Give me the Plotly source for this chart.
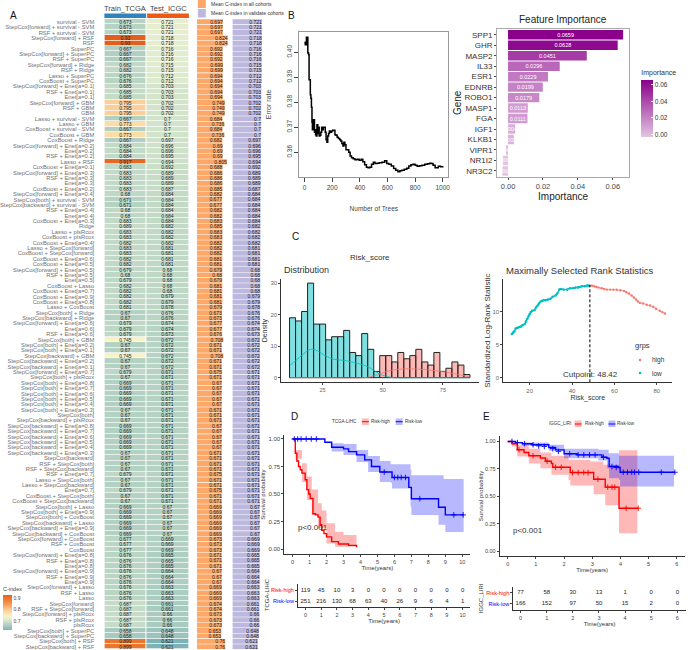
import plotly.graph_objects as go

W, H = 688, 650
FONT = "Liberation Sans"

# Panel A: model names and C-index values
row_names = [
    "survival - SVM", "StepCox[forward] + survival - SVM", "RSF + survival - SVM", "StepCox[forward] + RSF", "RSF",
    "SuperPC", "StepCox[forward] + SuperPC", "RSF + SuperPC", "StepCox[forward] + Ridge", "RSF + Ridge",
    "Lasso + SuperPC", "CoxBoost + SuperPC", "StepCox[forward] + Enet[a=0.1]", "RSF + Enet[a=0.1]", "Enet[a=0.1]",
    "StepCox[forward] + GBM", "RSF + GBM", "GBM", "Lasso + survival - SVM", "Lasso + GBM",
    "CoxBoost + survival - SVM", "CoxBoost + GBM", "CoxBoost + Ridge", "StepCox[forward] + Enet[a=0.2]", "Enet[a=0.2]",
    "RSF + Enet[a=0.2]", "Lasso + RSF", "CoxBoost + Enet[a=0.1]", "StepCox[forward] + Enet[a=0.3]", "RSF + Enet[a=0.3]",
    "Enet[a=0.3]", "CoxBoost + Enet[a=0.2]", "StepCox[forward] + Enet[a=0.4]", "StepCox[both] + survival - SVM", "StepCox[backward] + survival - SVM",
    "RSF + Enet[a=0.4]", "Enet[a=0.4]", "CoxBoost + Enet[a=0.3]", "Ridge", "Lasso + plsRcox",
    "CoxBoost + plsRcox", "CoxBoost + Enet[a=0.4]", "Lasso + StepCox[forward]", "CoxBoost + StepCox[forward]", "CoxBoost + Enet[a=0.6]",
    "CoxBoost + Enet[a=0.5]", "StepCox[forward] + Enet[a=0.5]", "RSF + Enet[a=0.5]", "Enet[a=0.5]", "CoxBoost + Lasso",
    "CoxBoost + Enet[a=0.7]", "CoxBoost + Enet[a=0.9]", "CoxBoost + Enet[a=0.8]", "Lasso + CoxBoost", "StepCox[both] + Ridge",
    "StepCox[backward] + Ridge", "StepCox[forward] + Enet[a=0.6]", "Enet[a=0.6]", "RSF + Enet[a=0.6]", "StepCox[both] + GBM",
    "StepCox[both] + Enet[a=0.2]", "StepCox[both] + Enet[a=0.1]", "StepCox[backward] + GBM", "StepCox[backward] + Enet[a=0.2]", "StepCox[backward] + Enet[a=0.1]",
    "StepCox[forward] + Enet[a=0.7]", "StepCox[both] + plsRcox", "StepCox[both] + Enet[a=0.8]", "StepCox[both] + Enet[a=0.7]", "StepCox[both] + Enet[a=0.6]",
    "StepCox[both] + Enet[a=0.5]", "StepCox[both] + Enet[a=0.4]", "StepCox[both] + Enet[a=0.3]", "StepCox[both]", "StepCox[backward] + plsRcox",
    "StepCox[backward] + Enet[a=0.8]", "StepCox[backward] + Enet[a=0.7]", "StepCox[backward] + Enet[a=0.6]", "StepCox[backward] + Enet[a=0.5]", "StepCox[backward] + Enet[a=0.4]",
    "StepCox[backward] + Enet[a=0.3]", "StepCox[backward]", "RSF + StepCox[both]", "RSF + StepCox[backward]", "RSF + Enet[a=0.7]",
    "Lasso + StepCox[both]", "Lasso + StepCox[backward]", "Enet[a=0.7]", "CoxBoost + StepCox[both]", "CoxBoost + StepCox[backward]",
    "StepCox[both] + Lasso", "StepCox[both] + Enet[a=0.9]", "StepCox[both] + CoxBoost", "StepCox[backward] + Lasso", "StepCox[backward] + Enet[a=0.9]",
    "StepCox[backward] + CoxBoost", "StepCox[forward] + CoxBoost", "RSF + CoxBoost", "CoxBoost", "StepCox[forward] + Enet[a=0.8]",
    "RSF + Enet[a=0.8]", "Enet[a=0.8]", "StepCox[forward] + Enet[a=0.9]", "RSF + Enet[a=0.9]", "Enet[a=0.9]",
    "StepCox[forward] + Lasso", "RSF + Lasso", "Lasso", "StepCox[forward]", "RSF + StepCox[forward]",
    "StepCox[forward] + plsRcox", "RSF + plsRcox", "plsRcox", "StepCox[both] + SuperPC", "StepCox[backward] + SuperPC",
    "StepCox[both] + RSF", "StepCox[backward] + RSF",
]
train_tcga = [
    0.673, 0.673, 0.673, 0.93, 0.93, 0.667, 0.667, 0.667, 0.682, 0.682,
    0.676, 0.676, 0.685, 0.685, 0.685, 0.795, 0.795, 0.795, 0.667, 0.773,
    0.667, 0.773, 0.667, 0.684, 0.684, 0.684, 0.917, 0.683, 0.683, 0.683,
    0.683, 0.683, 0.68, 0.671, 0.671, 0.68, 0.68, 0.683, 0.689, 0.683,
    0.683, 0.682, 0.683, 0.683, 0.682, 0.682, 0.679, 0.68, 0.679, 0.682,
    0.682, 0.682, 0.682, 0.681, 0.67, 0.67, 0.679, 0.679, 0.679, 0.745,
    0.67, 0.67, 0.745, 0.67, 0.67, 0.679, 0.67, 0.669, 0.669, 0.669,
    0.669, 0.669, 0.67, 0.67, 0.67, 0.669, 0.669, 0.669, 0.669, 0.669,
    0.67, 0.67, 0.67, 0.67, 0.679, 0.67, 0.67, 0.679, 0.67, 0.67,
    0.669, 0.669, 0.669, 0.669, 0.669, 0.669, 0.677, 0.677, 0.677, 0.676,
    0.676, 0.676, 0.676, 0.676, 0.676, 0.676, 0.676, 0.676, 0.687, 0.687,
    0.687, 0.687, 0.687, 0.658, 0.658, 0.899, 0.899,
]
test_icgc = [
    0.721, 0.721, 0.721, 0.718, 0.718, 0.716, 0.716, 0.716, 0.715, 0.715,
    0.712, 0.712, 0.703, 0.703, 0.703, 0.702, 0.702, 0.702, 0.7, 0.7,
    0.7, 0.7, 0.697, 0.696, 0.696, 0.695, 0.694, 0.692, 0.689, 0.689,
    0.689, 0.687, 0.684, 0.684, 0.684, 0.684, 0.684, 0.684, 0.682, 0.682,
    0.682, 0.682, 0.681, 0.681, 0.681, 0.681, 0.68, 0.68, 0.68, 0.68,
    0.68, 0.679, 0.679, 0.678, 0.676, 0.676, 0.674, 0.674, 0.673, 0.672,
    0.672, 0.672, 0.672, 0.672, 0.672, 0.671, 0.671, 0.671, 0.671, 0.671,
    0.671, 0.671, 0.671, 0.671, 0.671, 0.671, 0.671, 0.671, 0.671, 0.671,
    0.671, 0.671, 0.671, 0.671, 0.671, 0.671, 0.671, 0.671, 0.671, 0.671,
    0.67, 0.67, 0.67, 0.67, 0.67, 0.67, 0.669, 0.669, 0.669, 0.665,
    0.665, 0.665, 0.664, 0.664, 0.664, 0.663, 0.663, 0.663, 0.661, 0.661,
    0.66, 0.66, 0.66, 0.648, 0.648, 0.621, 0.621,
]
mean_all = [
    0.697, 0.697, 0.697, 0.824, 0.824, 0.692, 0.692, 0.692, 0.699, 0.699,
    0.694, 0.694, 0.694, 0.694, 0.694, 0.749, 0.749, 0.749, 0.684, 0.736,
    0.684, 0.736, 0.682, 0.69, 0.69, 0.69, 0.805, 0.688, 0.686, 0.686,
    0.686, 0.685, 0.682, 0.677, 0.677, 0.682, 0.682, 0.683, 0.685, 0.683,
    0.683, 0.682, 0.682, 0.682, 0.681, 0.681, 0.679, 0.68, 0.679, 0.681,
    0.681, 0.681, 0.681, 0.679, 0.673, 0.673, 0.677, 0.677, 0.676, 0.708,
    0.671, 0.671, 0.708, 0.671, 0.671, 0.675, 0.671, 0.67, 0.67, 0.67,
    0.67, 0.67, 0.671, 0.671, 0.671, 0.67, 0.67, 0.67, 0.67, 0.67,
    0.671, 0.671, 0.671, 0.671, 0.675, 0.671, 0.671, 0.675, 0.671, 0.671,
    0.669, 0.669, 0.669, 0.669, 0.669, 0.669, 0.673, 0.673, 0.673, 0.671,
    0.671, 0.671, 0.67, 0.67, 0.67, 0.669, 0.669, 0.669, 0.674, 0.674,
    0.673, 0.673, 0.673, 0.653, 0.653, 0.76, 0.76,
]
mean_valid = list(test_icgc)
heat_stops = [0.621, 0.66, 0.68, 0.72, 0.745, 0.775, 0.795, 0.85, 0.893, 0.93]
heat_colors = ["#7eb3b5", "#a9cbc0", "#bfd8c6", "#e6eecf", "#f8f2c4", "#fbdca6",
               "#fbcf9a", "#f59a50", "#ec7a32", "#e2601c"]

# Panel B: random forest error curve
n_trees = [
    1, 5, 10, 14, 17, 20, 24, 27, 30, 33, 37, 42, 46, 50, 54, 57, 60, 64, 68, 72,
    76, 80, 85, 90, 96, 101, 106, 112, 118, 124, 130, 136, 143, 150, 156, 162, 168, 174, 180, 188,
    196, 204, 212, 220, 228, 236, 245, 255, 262, 270, 278, 285, 292, 300, 310, 320, 330, 340, 352, 365,
    380, 395, 410, 422, 435, 448, 460, 472, 485, 498, 510, 525, 540, 560, 580, 595, 610, 628, 645, 660,
    676, 690, 705, 722, 740, 755, 770, 785, 800, 815, 832, 850, 870, 890, 905, 918, 930, 945, 955, 968,
    985, 1000,
]
error_rate = [
    0.4030, 0.4040, 0.4030, 0.4060, 0.4030, 0.4060, 0.3998, 0.3996, 0.3990, 0.3890,
    0.3890, 0.3830, 0.3816, 0.3780, 0.3720, 0.3690, 0.3730, 0.3690, 0.3730, 0.3680,
    0.3690, 0.3670, 0.3665, 0.3710, 0.3675, 0.3700, 0.3665, 0.3668, 0.3680, 0.3700,
    0.3690, 0.3700, 0.3700, 0.3680, 0.3650, 0.3640, 0.3665, 0.3675, 0.3685, 0.3680,
    0.3685, 0.3688, 0.3688, 0.3670, 0.3668, 0.3660, 0.3655, 0.3650, 0.3645, 0.3635,
    0.3625, 0.3640, 0.3630, 0.3610, 0.3610, 0.3600, 0.3585, 0.3578, 0.3574, 0.3570,
    0.3572, 0.3568, 0.3572, 0.3562, 0.3550, 0.3540, 0.3538, 0.3540, 0.3552, 0.3560,
    0.3555, 0.3556, 0.3558, 0.3560, 0.3566, 0.3555, 0.3552, 0.3545, 0.3535, 0.3528,
    0.3522, 0.3526, 0.3528, 0.3532, 0.3536, 0.3545, 0.3550, 0.3552, 0.3548, 0.3544,
    0.3546, 0.3548, 0.3552, 0.3554, 0.3556, 0.3555, 0.3548, 0.3538, 0.3538, 0.3544,
    0.3542, 0.3545,
]
genes = ["SPP1", "GHR", "MASP2", "IL33", "ESR1", "EDNRB", "ROBO1", "MASP1", "FGA", "IGF1",
         "KLKB1", "VIPR1", "NR1I2", "NR3C2"]
importance = [0.0659, 0.0628, 0.0451, 0.0296, 0.0229, 0.0199, 0.0179, 0.0113, 0.0111, 0.0041,
              0.0033, -0.0012, -0.0029, -0.0032]

# Panel C: risk score distribution and rank statistics
low_bins = [12.5, 15, 17.5, 20, 22.5, 25, 27.5, 30, 32.5, 35, 37.5, 40, 42.5, 45, 47.5]
low_counts = [19, 18, 21, 30, 17, 17, 12, 13, 13, 15, 8, 7, 14, 9, 2]
high_bins = [50, 52.5, 55, 57.5, 60, 62.5, 65, 67.5, 70, 72.5, 75, 77.5, 80, 82.5, 85]
high_counts = [7, 7, 5, 8, 6, 7, 9, 5, 4, 8, 2, 3, 5, 4, 1]
low_dens_x = [11.5, 14, 17, 20, 23, 26, 30, 34, 38, 42, 45, 48, 51, 55, 65, 75, 86]
low_dens_y = [4, 5.5, 7.5, 9, 8.5, 7, 5.8, 5.5, 4.8, 4, 3, 1.5, 0.5, 0, 0, 0, 0]
high_dens_x = [11.5, 25, 42, 46, 50, 53, 57, 62, 67, 72, 76, 80, 84, 86]
high_dens_y = [0, 0, 0, 0.5, 1.5, 2.3, 2.7, 2.8, 2.6, 2.2, 1.8, 1.2, 0.6, 0.3]
low_score = [11.6, 12.2, 12.8, 13.4, 14.0, 14.8, 15.8, 16.6, 17.7, 18.3, 18.9, 19.5, 20.0, 20.5, 21.2, 22.3,
             23.0, 23.8, 24.4, 25.2, 26.0, 26.7, 27.6, 28.6, 29.8, 30.8, 32.2, 33.0, 34.0, 34.8, 36.0, 37.7,
             39.0, 40.4, 41.6, 42.8, 43.8, 44.7, 46.0, 47.0, 47.8]
low_stat = [6.6, 6.8, 7.0, 7.4, 7.5, 7.6, 7.7, 7.9, 8.1, 8.5, 8.9, 9.3, 9.6, 9.9, 10.1, 10.2,
            10.6, 10.9, 11.2, 11.5, 11.6, 11.7, 11.7, 11.8, 11.9, 12.2, 12.4, 12.7, 13.3, 13.4, 13.3, 13.3,
            13.5, 13.5, 13.6, 13.6, 13.7, 13.8, 13.8, 13.9, 13.9]
high_score = [48.6, 49.5, 50.5, 51.5, 52.5, 54.0, 55.2, 56.4, 58.0, 59.5, 61.1, 62.8, 64.5, 65.6, 66.8, 68.1,
              69.2, 70.2, 71.0, 72.0, 73.5, 75.2, 76.8, 78.3, 79.6, 81.4, 82.6, 83.8]
high_stat = [13.9, 13.9, 13.8, 13.7, 13.6, 13.5, 13.4, 13.3, 13.3, 13.3, 13.3, 13.2, 13.1, 12.9, 12.7, 12.4,
             12.1, 11.8, 11.5, 11.3, 11.2, 11.0, 10.9, 10.7, 10.4, 10.1, 9.9, 9.7]
cutpoint = 48.42

# Panel D: TCGA-LIHC survival
d_high_t = [0, 0.16, 0.25, 0.35, 0.45, 0.55, 0.74, 0.84, 0.95, 1.04, 1.2, 1.35, 1.5, 1.62, 1.72, 1.85, 2, 2.3, 2.7, 3.3, 3.77]
d_high_s = [1, 0.87, 0.8, 0.75, 0.72, 0.69, 0.63, 0.54, 0.5, 0.46, 0.32, 0.31, 0.29, 0.22, 0.17, 0.14, 0.11, 0.067, 0.045, 0.033, 0.015]
d_high_up_t = [0, 0.16, 0.55, 0.84, 1.13, 1.5, 1.72, 2, 2.5, 3, 3.77]
d_high_up_s = [1, 0.9, 0.78, 0.66, 0.54, 0.415, 0.35, 0.233, 0.158, 0.127, 0.106]
d_high_lo_t = [0, 0.16, 0.55, 0.84, 1.13, 1.5, 2, 2.5, 3.77]
d_high_lo_s = [1, 0.82, 0.61, 0.445, 0.31, 0.19, 0.05, 0.02, 0.002]
d_low_t = [0, 1.62, 1.9, 2.3, 3, 3.3, 3.77, 4.25, 4.65, 5.14, 5.78, 5.86, 6.7, 6.85, 7, 8.55, 8.6, 8.9, 9, 10.08]
d_low_s = [1, 1, 0.97, 0.925, 0.91, 0.885, 0.855, 0.81, 0.75, 0.7, 0.7, 0.65, 0.65, 0.56, 0.457, 0.457, 0.38, 0.38, 0.31, 0.31]
d_low_up_t = [0, 1.62, 2.3, 3, 3.77, 4.45, 5.14, 5.78, 6.7, 6.95, 7, 8.55, 8.9, 10.08]
d_low_up_s = [1, 1, 0.96, 0.955, 0.9, 0.845, 0.8, 0.77, 0.77, 0.72, 0.67, 0.67, 0.636, 0.6]
d_low_lo_t = [0, 1.62, 2.3, 3, 3.77, 4.45, 5.14, 5.8, 5.86, 6.7, 6.95, 7, 8.55, 8.6, 8.9, 9, 10.08]
d_low_lo_s = [1, 1, 0.885, 0.855, 0.79, 0.7, 0.61, 0.6, 0.55, 0.55, 0.385, 0.31, 0.31, 0.22, 0.22, 0.155, 0.155]
d_cens_t = [0.1, 0.3, 0.5, 0.8, 1.1, 1.4, 5.4, 6.0, 6.2, 6.4, 6.65, 7.5, 9.5, 10.05]
d_cens_s = [1, 1, 1, 1, 1, 1, 0.7, 0.65, 0.65, 0.65, 0.65, 0.457, 0.31, 0.31]
d_years = list(range(11))
d_risk_high = [119, 45, 10, 3, 0, 0, 0, 0, 0, 0, 0]
d_risk_low = [251, 216, 130, 68, 63, 40, 26, 9, 6, 4, 1]

# Panel E: ICGC-LIRI survival
e_high_t = [0, 0.16, 0.34, 0.58, 0.75, 1.05, 1.16, 1.34, 1.55, 1.6, 2.1, 2.22, 2.93, 3.05, 3.4, 3.46, 3.95, 4.63]
e_high_s = [1, 0.98, 0.925, 0.9, 0.87, 0.87, 0.85, 0.82, 0.8, 0.765, 0.765, 0.717, 0.717, 0.656, 0.656, 0.584, 0.392, 0.392]
e_high_up_t = [0, 0.34, 0.75, 1.16, 1.55, 2.16, 2.93, 3.4, 3.95, 4.6]
e_high_up_s = [1, 0.97, 0.933, 0.9, 0.87, 0.833, 0.818, 0.787, 0.92, 0.92]
e_high_lo_t = [0, 0.16, 0.34, 0.75, 1.16, 1.55, 2.16, 2.22, 3.05, 3.46, 3.95, 4.6]
e_high_lo_s = [1, 0.955, 0.863, 0.8, 0.757, 0.696, 0.65, 0.6, 0.52, 0.42, 0.164, 0.164]
e_low_t = [0, 0.28, 0.52, 0.87, 1.46, 1.7, 2, 2.46, 3.22, 3.34, 3.52, 3.6, 3.93, 3.99, 5.93]
e_low_s = [1, 0.99, 0.98, 0.97, 0.945, 0.924, 0.888, 0.878, 0.878, 0.857, 0.848, 0.772, 0.763, 0.72, 0.72]
e_low_up_t = [0, 0.52, 1.46, 2, 3.22, 3.58, 3.95, 5.9]
e_low_up_s = [1, 0.99, 0.97, 0.933, 0.924, 0.894, 0.87, 0.87]
e_low_lo_t = [0, 0.52, 1.46, 2, 3.22, 3.52, 3.6, 3.95, 3.99, 5.9]
e_low_lo_s = [1, 0.964, 0.915, 0.848, 0.827, 0.757, 0.666, 0.65, 0.59, 0.59]
e_cens_low_t = [0.15, 0.35, 0.6, 0.9, 1.1, 1.3, 1.6, 1.8, 2.2, 2.5, 2.7, 2.9, 3.1, 3.4, 3.7, 3.85, 4.1, 4.25, 4.4, 4.5, 4.65, 5.45, 5.93]
e_cens_low_s = [1, 0.99, 0.98, 0.97, 0.96, 0.955, 0.935, 0.91, 0.888, 0.878, 0.878, 0.878, 0.878, 0.857, 0.772, 0.763, 0.72, 0.72, 0.72, 0.72, 0.72, 0.72, 0.72]
e_cens_high_t = [0.4, 0.9, 1.4, 1.7, 1.9, 2.3, 2.5, 2.7, 2.85, 3.2, 3.55, 3.7, 3.8, 4.2, 4.63]
e_cens_high_s = [0.925, 0.87, 0.82, 0.765, 0.765, 0.717, 0.717, 0.717, 0.717, 0.656, 0.584, 0.584, 0.584, 0.392, 0.392]
e_years = list(range(7))
e_risk_high = [77, 58, 30, 13, 1, 0, 0]
e_risk_low = [166, 152, 97, 50, 15, 2, 0]

RED = "#ff0000"
BLUE = "#0000ff"
RED_BAND = "rgba(255,0,0,0.28)"
BLUE_BAND = "rgba(0,0,255,0.28)"
TEAL = "#00bfc4"
PINK = "#f8766d"


def dom_x(a, b):
    return [a / W, b / W]


def dom_y(top, bottom):
    return [1 - bottom / H, 1 - top / H]


def axis(dom, rng, **kw):
    base = dict(domain=dom, range=rng, showgrid=False, zeroline=False, ticks="outside", ticklen=2,
                tickwidth=0.7, tickcolor="#444", showline=True, linecolor="#333", linewidth=1,
                tickfont=dict(size=6, color="#555"))
    base.update(kw)
    return base


annos = []
shapes = []


def note(text, x, y, size=7, color="#333", anchor="center", angle=0):
    annos.append(dict(text=text, x=x / W, y=1 - y / H, xref="paper", yref="paper", showarrow=False,
                      font=dict(size=size, color=color), xanchor=anchor, yanchor="middle", textangle=angle))


def rect(x0, y0, x1, y1, fill, line=None):
    shapes.append(dict(type="rect", xref="paper", yref="paper", x0=x0 / W, x1=x1 / W, y0=1 - y0 / H, y1=1 - y1 / H,
                       fillcolor=fill, line=dict(width=0 if line is None else 0.6, color=line or fill)))


def band(t_up, s_up, t_lo, s_lo, color, xa, ya):
    # stepped ribbon: upper edge forward, lower edge back
    xs, ys = [], []
    for i in range(len(t_up)):
        if i:
            xs.append(t_up[i])
            ys.append(s_up[i - 1])
        xs.append(t_up[i])
        ys.append(s_up[i])
    low_x, low_y = [], []
    for i in range(len(t_lo)):
        if i:
            low_x.append(t_lo[i])
            low_y.append(s_lo[i - 1])
        low_x.append(t_lo[i])
        low_y.append(s_lo[i])
    return go.Scatter(x=xs + low_x[::-1], y=ys + low_y[::-1], fill="toself", fillcolor=color, mode="none",
                      showlegend=False, xaxis=xa, yaxis=ya, hoverinfo="skip")


def km_line(t, s, color, xa, ya):
    return go.Scatter(x=t, y=s, mode="lines", line=dict(color=color, width=1.4, shape="hv"),
                      showlegend=False, xaxis=xa, yaxis=ya)


def censor(t, s, color, xa, ya):
    return go.Scatter(x=t, y=s, mode="markers", marker=dict(symbol="cross-thin", size=4, line=dict(color=color, width=0.9)),
                      showlegend=False, xaxis=xa, yaxis=ya)


fig = go.Figure()

# A: heatmap plus two bar columns
rows = list(range(len(row_names)))
z = [[a, b] for a, b in zip(train_tcga, test_icgc)]
fig.add_trace(go.Heatmap(
    z=z, x=["Train_TCGA", "Test_ICGC"], y=rows, text=[[str(a), str(b)] for a, b in z],
    texttemplate="%{text}", textfont=dict(size=5, color="#222"),
    colorscale=[[(v - heat_stops[0]) / (heat_stops[-1] - heat_stops[0]), c] for v, c in zip(heat_stops, heat_colors)],
    zmin=heat_stops[0], zmax=heat_stops[-1], xgap=1, ygap=0.7,
    colorbar=dict(x=1 / W, xanchor="left", xpad=0, y=1 - 584 / H, yanchor="top", ypad=0, len=46 / H, thickness=9,
                  tickvals=[0.7, 0.8, 0.9], ticktext=["0.7", "0.8", "0.9"], tickfont=dict(size=5, color="#444"),
                  ticks="", outlinewidth=0, title=dict(text="C-index", font=dict(size=5.5, color="#444"), side="top")),
    xaxis="x", yaxis="y"))
fig.add_trace(go.Bar(x=mean_all, y=rows, orientation="h", marker=dict(color="#fda868", line=dict(width=0)),
                     text=[str(v) for v in mean_all], textposition="inside", insidetextanchor="end", textangle=0,
                     constraintext="none", textfont=dict(size=5, color="#222"), width=0.9, showlegend=False,
                     xaxis="x2", yaxis="y2"))
fig.add_trace(go.Bar(x=mean_valid, y=rows, orientation="h", marker=dict(color="#bdb9de", line=dict(width=0)),
                     text=[str(v) for v in mean_valid], textposition="inside", insidetextanchor="end", textangle=0,
                     constraintext="none", textfont=dict(size=5, color="#222"), width=0.9, showlegend=False,
                     xaxis="x3", yaxis="y3"))

# B: error curve and importance bars
fig.add_trace(go.Scatter(x=n_trees, y=error_rate, mode="lines", line=dict(color="#000", width=1.5, shape="hv"),
                         showlegend=False, xaxis="x4", yaxis="y4"))
imp_scale = [[0, "#e2c4e2"], [1, "#8b008b"]]
fig.add_trace(go.Bar(
    x=importance, y=list(range(len(genes))), orientation="h", text=[f"{v:.4f}" for v in importance], textposition="inside",
    insidetextanchor="middle", textangle=0, constraintext="none", textfont=dict(size=5.5, color="#fff"),
    width=0.9, showlegend=False, xaxis="x5", yaxis="y5",
    marker=dict(color=importance, colorscale=imp_scale, cmin=-0.0032, cmax=0.0659, line=dict(width=0),
                colorbar=dict(x=643 / W, xanchor="left", xpad=0, y=1 - 67 / H, yanchor="top", ypad=0, len=70 / H,
                              thickness=12, tickvals=[0, 0.02, 0.04, 0.06], ticktext=["0.00", "0.02", "0.04", "0.06"],
                              tickfont=dict(size=6.5, color="#333"), ticks="inside", tickcolor="#fff", ticklen=2,
                              outlinewidth=0, title=dict(text="Importance", font=dict(size=7, color="#333"), side="top")))))

# C: histogram and rank statistics
fig.add_trace(go.Bar(x=low_bins, y=low_counts, width=2.5, marker=dict(color="rgba(0,191,196,0.5)", line=dict(color="#222", width=1)),
                     showlegend=False, xaxis="x6", yaxis="y6"))
fig.add_trace(go.Bar(x=high_bins, y=high_counts, width=2.5, marker=dict(color="rgba(248,118,109,0.5)", line=dict(color="#222", width=1)),
                     showlegend=False, xaxis="x6", yaxis="y6"))
fig.add_trace(go.Scatter(x=low_dens_x, y=low_dens_y, mode="lines", line=dict(color=TEAL, width=0.8, shape="spline"),
                         showlegend=False, xaxis="x6", yaxis="y6"))
fig.add_trace(go.Scatter(x=high_dens_x, y=high_dens_y, mode="lines", line=dict(color=PINK, width=0.8, shape="spline"),
                         showlegend=False, xaxis="x6", yaxis="y6"))
fig.add_trace(go.Scatter(x=high_score, y=high_stat, mode="lines+markers", line=dict(color=PINK, width=0.7),
                         marker=dict(color=PINK, size=2.4), showlegend=False, xaxis="x7", yaxis="y7"))
fig.add_trace(go.Scatter(x=low_score, y=low_stat, mode="lines+markers", line=dict(color=TEAL, width=1.4),
                         marker=dict(color=TEAL, size=2.6), showlegend=False, xaxis="x7", yaxis="y7"))
fig.add_trace(go.Scatter(x=[cutpoint, cutpoint], y=[-0.7, 14], mode="lines", line=dict(color="#000", width=1, dash="3px,2px"),
                         showlegend=False, xaxis="x7", yaxis="y7"))

# D: Kaplan-Meier and risk table
fig.add_trace(band(d_high_up_t, d_high_up_s, d_high_lo_t, d_high_lo_s, RED_BAND, "x8", "y8"))
fig.add_trace(band(d_low_up_t, d_low_up_s, d_low_lo_t, d_low_lo_s, BLUE_BAND, "x8", "y8"))
fig.add_trace(km_line(d_high_t, d_high_s, RED, "x8", "y8"))
fig.add_trace(km_line(d_low_t, d_low_s, BLUE, "x8", "y8"))
fig.add_trace(censor(d_cens_t, d_cens_s, BLUE, "x8", "y8"))
fig.add_trace(go.Scatter(x=d_years, y=[1] * len(d_years), text=d_risk_high, mode="text", textfont=dict(size=6, color="#222"),
                         showlegend=False, xaxis="x9", yaxis="y9"))
fig.add_trace(go.Scatter(x=d_years, y=[0] * len(d_years), text=d_risk_low, mode="text", textfont=dict(size=6, color="#222"),
                         showlegend=False, xaxis="x9", yaxis="y9"))

# E: Kaplan-Meier and risk table
fig.add_trace(band(e_high_up_t, e_high_up_s, e_high_lo_t, e_high_lo_s, RED_BAND, "x10", "y10"))
fig.add_trace(band(e_low_up_t, e_low_up_s, e_low_lo_t, e_low_lo_s, BLUE_BAND, "x10", "y10"))
fig.add_trace(km_line(e_high_t, e_high_s, RED, "x10", "y10"))
fig.add_trace(km_line(e_low_t, e_low_s, BLUE, "x10", "y10"))
fig.add_trace(censor(e_cens_high_t, e_cens_high_s, RED, "x10", "y10"))
fig.add_trace(censor(e_cens_low_t, e_cens_low_s, BLUE, "x10", "y10"))
fig.add_trace(go.Scatter(x=e_years, y=[1] * len(e_years), text=e_risk_high, mode="text", textfont=dict(size=6, color="#222"),
                         showlegend=False, xaxis="x11", yaxis="y11"))
fig.add_trace(go.Scatter(x=e_years, y=[0] * len(e_years), text=e_risk_low, mode="text", textfont=dict(size=6, color="#222"),
                         showlegend=False, xaxis="x11", yaxis="y11"))

# text and small legend pieces
for label, x, y in [("A", 12, 15), ("B", 291, 15), ("C", 295, 237), ("D", 294, 416), ("E", 487, 416)]:
    note(label, x, y, size=10, color="#111")
note("Train_TCGA", 124, 9, size=7.5, color="#444")
note("Test_ICGC", 167, 9, size=7.5, color="#444")
rect(103, 13.5, 145, 18, "#2f84be")
rect(146, 13.5, 188, 18, "#ef5a10")
rect(197, 0, 205, 8, "#fda868")
rect(197, 9, 205, 17.5, "#bdb9de")
note("Mean C-index in all cohorts", 208, 4.5, size=5, anchor="left")
note("Mean C-index in validate cohorts", 208, 13.5, size=5, anchor="left")

note("Feature Importance", 564, 19, size=10, color="#222")
note("Risk_score", 370, 257, size=8)
note("Distribution", 282, 270, size=9, anchor="left")
note("Maximally Selected Rank Statistics", 505, 270, size=9.5, anchor="left")
note("Cutpoint: 48.42", 591.7, 375, size=8)
note("grps", 635, 346, size=7.5, anchor="left")
note("high", 652, 360, size=6.5, anchor="left")
note("low", 652, 373, size=6.5, anchor="left")
for y, c in [(360, PINK), (373, TEAL)]:
    shapes.append(dict(type="circle", xref="paper", yref="paper", x0=640.5 / W, x1=643 / W, y0=1 - (y - 1.25) / H,
                       y1=1 - (y + 1.25) / H, fillcolor=c, line=dict(width=0)))
note("p&lt;0.001", 296, 527, size=8, anchor="left")
note("p&lt;0.001", 512, 530, size=8, anchor="left")

note("TCGA-LIHC", 345, 421.7, size=4.5)
note("Risk-high", 381, 421.7, size=4.5)
note("Risk-low", 414, 421.7, size=4.5)
rect(362, 418.5, 369, 425, RED_BAND)
rect(396, 418.5, 403, 425, BLUE_BAND)
note("IGGC_LIRI", 561, 424, size=4.5)
note("Risk-high", 596, 424, size=4.5)
note("Risk-low", 628, 424, size=4.5)
rect(576, 420.5, 583, 427, RED_BAND)
rect(610, 420.5, 617, 427, BLUE_BAND)
for x0, x1, y, c in [(362, 369, 421.7, RED), (396, 403, 421.7, BLUE), (576, 583, 424, RED), (610, 617, 424, BLUE)]:
    shapes.append(dict(type="line", xref="paper", yref="paper", x0=x0 / W, x1=x1 / W, y0=1 - y / H, y1=1 - y / H,
                       line=dict(color=c, width=1)))
note("TCGA-LIHC", 266.7, 595, size=6, angle=-90)
note("IGGC_LIRI", 482, 598, size=6, angle=-90)

row_rng = [116.5, -0.5]
hide = dict(showline=False, ticks="", showticklabels=False)
risk_labels = [f"<span style='color:{BLUE}'>Risk-low</span>", f"<span style='color:{RED}'>Risk-high</span>"]

fig.update_layout(
    width=W, height=H, margin=dict(l=0, r=0, t=0, b=0), paper_bgcolor="#fff", plot_bgcolor="#fff",
    font=dict(family=FONT, color="#333"), barmode="overlay", annotations=annos, shapes=shapes, showlegend=False,
    # A
    xaxis=dict(domain=dom_x(103, 188), showgrid=False, zeroline=False, showline=False, ticks="", showticklabels=False),
    yaxis=dict(domain=dom_y(19, 649.4), range=row_rng, tickmode="array", tickvals=rows, ticktext=row_names, showgrid=False,
               zeroline=False, showline=False, ticks="outside", ticklen=8, tickcolor="rgba(0,0,0,0)",
               tickfont=dict(size=5.8, color="#707070")),
    xaxis2=axis(dom_x(196, 228), [0, 0.851], **hide),
    yaxis2=axis(dom_y(19, 649.4), row_rng, **hide),
    xaxis3=axis(dom_x(231.7, 262), [0, 0.732], **hide),
    yaxis3=axis(dom_y(19, 649.4), row_rng, **hide),
    # B left
    xaxis4=axis(dom_x(299, 449), [-38, 1041], tickvals=[0, 200, 400, 600, 800, 1000], mirror=True, linecolor="#999",
                tickfont=dict(size=6.5, color="#444"), ticklen=4,
                title=dict(text="Number of Trees", font=dict(size=6.5, color="#444"), standoff=16)),
    yaxis4=axis(dom_y(32, 177), [0.3501, 0.4081], tickvals=[0.36, 0.37, 0.38, 0.39, 0.40],
                ticktext=["0.36", "0.37", "0.38", "0.39", "0.40"], tickangle=-90, mirror=True, linecolor="#999",
                tickfont=dict(size=6.5, color="#444"), ticklen=4,
                title=dict(text="Error rate", font=dict(size=7, color="#444"), standoff=13)),
    # B right
    xaxis5=axis(dom_x(498, 630.7), [-0.00627, 0.0693], tickvals=[0, 0.02, 0.04, 0.06], ticktext=["0.00", "0.02", "0.04", "0.06"],
                mirror=True, linecolor="#aaa", tickfont=dict(size=7.5, color="#444"),
                title=dict(text="Importance", font=dict(size=10, color="#222"), standoff=0)),
    yaxis5=axis(dom_y(29, 176.7), [13.55, -0.55], tickmode="array", tickvals=list(range(len(genes))),
                ticktext=genes, mirror=True, linecolor="#aaa", tickfont=dict(size=8, color="#333"),
                title=dict(text="Gene", font=dict(size=10, color="#222"), standoff=0)),
    # C left
    xaxis6=axis(dom_x(281, 480), [7.85, 90.1], tickvals=[25, 50, 75], tickfont=dict(size=5.5, color="#666")),
    yaxis6=axis(dom_y(279, 382.3), [-1.46, 31.3], tickvals=[0, 10, 20, 30], tickfont=dict(size=6, color="#666"),
                title=dict(text="Density", font=dict(size=7, color="#333"), standoff=2)),
    # C right
    xaxis7=axis(dom_x(504.3, 674), [7.6, 87.2], tickvals=[20, 40, 60, 80], tickfont=dict(size=6, color="#666"),
                title=dict(text="Risk_score", font=dict(size=7, color="#333"), standoff=2)),
    yaxis7=axis(dom_y(279, 382.3), [-0.7, 14.9], tickvals=[0, 5, 10], tickfont=dict(size=6, color="#666"),
                title=dict(text="Standardized Log-Rank Statistic", font=dict(size=8, color="#333"), standoff=0)),
    # D
    xaxis8=axis(dom_x(284, 471), [-0.486, 10.47], tickvals=d_years, tickfont=dict(size=5.5, color="#444"),
                title=dict(text="Time(years)", font=dict(size=6, color="#333"), standoff=0)),
    yaxis8=axis(dom_y(435, 554.3), [-0.048, 1.036], tickvals=[0, 0.25, 0.5, 0.75, 1], ticktext=["0.00", "0.25", "0.50", "0.75", "1.00"],
                tickfont=dict(size=6, color="#444"), title=dict(text="Survival probability", font=dict(size=6, color="#333"), standoff=2)),
    xaxis9=axis(dom_x(297.7, 471), [-0.48, 10.49], tickvals=d_years, tickfont=dict(size=5.5, color="#444"),
                title=dict(text="Time(years)", font=dict(size=6, color="#333"), standoff=0)),
    yaxis9=axis(dom_y(584, 607.3), [-0.55, 1.57], tickvals=[0, 1], ticktext=risk_labels, tickfont=dict(size=5.5)),
    # E
    xaxis10=axis(dom_x(500.7, 686.7), [-0.28, 6.28], tickvals=e_years, tickfont=dict(size=5.5, color="#444"),
                 title=dict(text="Time(years)", font=dict(size=6, color="#333"), standoff=0)),
    yaxis10=axis(dom_y(436, 556), [-0.043, 1.05], tickvals=[0, 0.25, 0.5, 0.75, 1], ticktext=["0.00", "0.25", "0.50", "0.75", "1.00"],
                 tickfont=dict(size=5.5, color="#444"), title=dict(text="Survival probability", font=dict(size=6, color="#333"), standoff=0)),
    xaxis11=axis(dom_x(514.3, 688), [-0.28, 6.33], tickvals=e_years, tickfont=dict(size=5.5, color="#444"),
                 title=dict(text="Time(years)", font=dict(size=6, color="#333"), standoff=0)),
    yaxis11=axis(dom_y(586.7, 610), [-0.55, 1.57], tickvals=[0, 1], ticktext=risk_labels, tickfont=dict(size=5.5)),
)

# every panel sits on its own pair of axes
for i in range(2, 12):
    fig.layout[f"xaxis{i}"].anchor = f"y{i}"
    fig.layout[f"yaxis{i}"].anchor = f"x{i}"

# the browser's default body margin would push everything 8px down and right
fig.write_html("out.html", config={"displayModeBar": False}, post_script="document.body.style.margin = '0';")
